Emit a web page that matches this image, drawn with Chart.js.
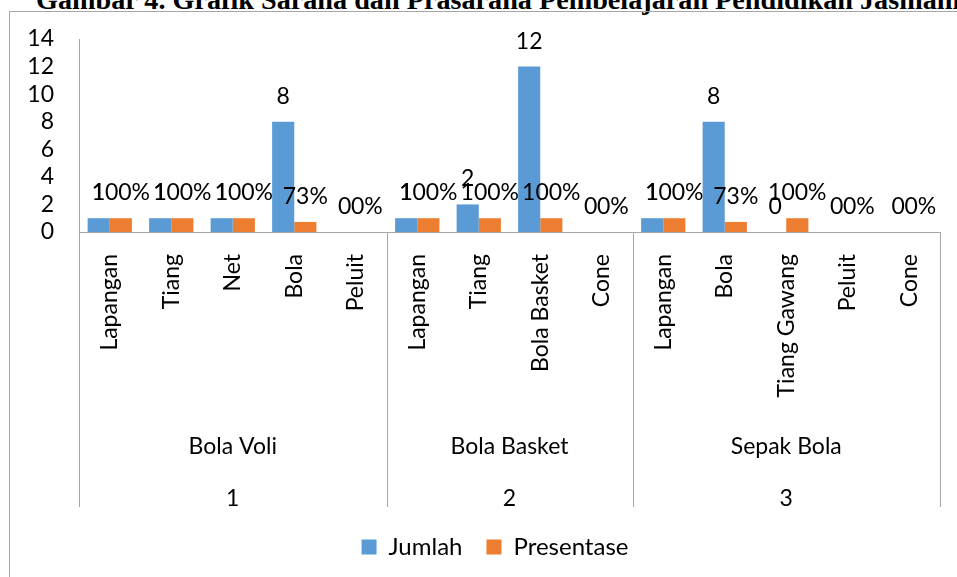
<!DOCTYPE html>
<html>
<head>
<meta charset="utf-8">
<script src="https://cdn.jsdelivr.net/npm/chart.js@4.4.0/dist/chart.umd.min.js"></script>
<style>
  html, body { margin: 0; padding: 0; width: 957px; height: 577px; overflow: hidden; background: #fff; }
  #title { position: absolute; left: 36px; top: -13px; font: bold 28.2px "Liberation Serif", "Times New Roman", serif; line-height: 26px; white-space: nowrap; color: #000; }
  #frame { position: absolute; left: 9px; top: 11px; width: 1200px; height: 800px; border: 1px solid #a6a6a6; }
  #wrap { position: absolute; left: 0; top: 0; width: 957px; height: 577px; }
</style>
</head>
<body>
<div id="title">Gambar 4. Grafik Sarana dan Prasarana Pembelajaran Pendidikan Jasmani</div>
<div id="frame"></div>
<div id="wrap"><canvas id="myChart"></canvas></div>
<script>
const items = ['Lapangan', 'Tiang', 'Net', 'Bola', 'Peluit',
  'Lapangan', 'Tiang', 'Bola Basket', 'Cone',
  'Lapangan', 'Bola', 'Tiang Gawang', 'Peluit', 'Cone'];
const groupNames = ['Bola Voli', 'Bola Basket', 'Sepak Bola'];
const groupNumbers = ['1', '2', '3'];
const groupSizes = [5, 4, 5];
const jumlah = [1, 1, 1, 8, 0, 1, 2, 12, 0, 1, 8, 0, 0, 0];
const presentase = [1, 1, 1, 0.73, 0, 1, 1, 1, 0, 1, 0.73, 1, 0, 0];
const yTicks = [0, 2, 4, 6, 8, 10, 12, 14];

const FONT = 'Lato';
const AXIS_GREY = '#a6a6a6';

// value labels above each bar (Excel style, they overlap like the original)
const barLabels = {
  id: 'barLabels',
  afterDatasetsDraw(chart) {
    const ctx = chart.ctx;
    ctx.save();
    ctx.font = '23px ' + FONT;
    ctx.fillStyle = '#000';
    ctx.textAlign = 'center';
    ctx.textBaseline = 'alphabetic';
    chart.data.datasets.forEach((ds, i) => {
      chart.getDatasetMeta(i).data.forEach((bar, j) => {
        const v = ds.data[j];
        const txt = i === 0 ? String(v) : Math.round(v * 100) + '%';
        ctx.fillText(txt, bar.x, bar.y - 18);
      });
    });
    ctx.restore();
  }
};

// second and third level of the category axis
const groupAxis = {
  id: 'groupAxis',
  afterLayout(chart) {
    // legend in the original sits a bit right of centre
    chart.legend.left += 25;
    chart.legend.right += 25;
  },
  afterDraw(chart) {
    const x = chart.scales.x;
    const ctx = chart.ctx;
    const top = chart.chartArea.bottom;
    ctx.save();
    ctx.strokeStyle = AXIS_GREY;
    ctx.lineWidth = 1;
    ctx.font = '23px ' + FONT;
    ctx.fillStyle = '#000';
    ctx.textAlign = 'center';
    const edges = [x.getPixelForValue(-0.5)];
    let start = 0;
    groupSizes.forEach((n, g) => {
      const left = x.getPixelForValue(start - 0.5);
      const right = x.getPixelForValue(start + n - 0.5);
      const mid = (left + right) / 2;
      ctx.fillText(groupNames[g], mid, top + 215);
      ctx.fillText(groupNumbers[g], mid, top + 267);
      edges.push(right);
      start += n;
    });
    edges.forEach(px => {
      const xx = Math.round(px) + 0.5;
      ctx.beginPath();
      ctx.moveTo(xx, top);
      ctx.lineTo(xx, top + 275);
      ctx.stroke();
    });
    ctx.restore();
  }
};

const ctx = document.getElementById('myChart');
new Chart(ctx, {
  type: 'bar',
  data: {
    labels: items,
    datasets: [
      { label: 'Jumlah', data: jumlah, backgroundColor: '#5b9bd5', categoryPercentage: 0.72, barPercentage: 1 },
      { label: 'Presentase', data: presentase, backgroundColor: '#ed7d31', categoryPercentage: 0.72, barPercentage: 1 }
    ]
  },
  options: {
    responsive: true,
    maintainAspectRatio: false,
    animation: false,
    layout: { padding: { left: 0, right: 17, top: 39, bottom: 8 } },
    plugins: {
      legend: {
        position: 'bottom',
        labels: { font: { family: FONT, size: 24 }, color: '#000', boxWidth: 15, boxHeight: 15, padding: 24 }
      },
      tooltip: { enabled: false }
    },
    scales: {
      x: {
        grid: { display: false, drawTicks: false },
        border: { display: true, color: AXIS_GREY },
        ticks: { autoSkip: false, minRotation: 90, maxRotation: 90, padding: 22, font: { family: FONT, size: 23 }, color: '#000' },
        afterFit(s) {
          s.height = 279;
          s.paddingLeft = 0;
          s.paddingRight = 0;
        }
      },
      y: {
        min: 0,
        max: 14,
        grid: { display: false, drawTicks: false },
        border: { display: true, color: AXIS_GREY },
        ticks: { autoSkip: false, padding: 25, font: { family: FONT, size: 23 }, color: '#000' },
        afterBuildTicks(s) { s.ticks = yTicks.map(v => ({ value: v })); },
        afterFit(s) { s.width = 79; }
      }
    }
  },
  plugins: [barLabels, groupAxis]
});
</script>
</body>
</html>
